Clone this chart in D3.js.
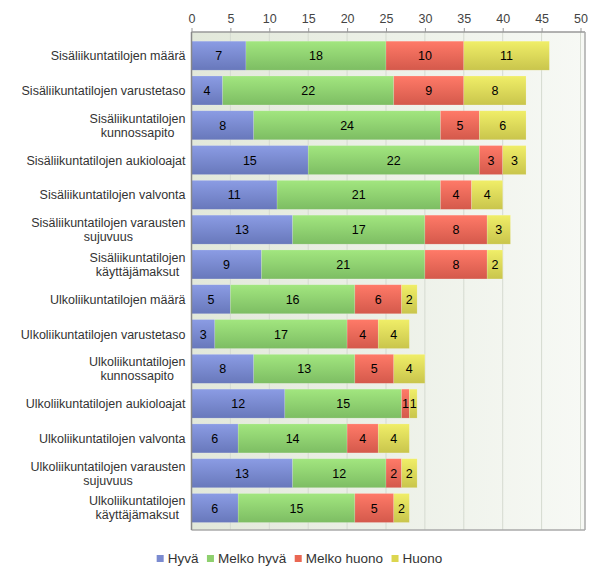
<!DOCTYPE html>
<html>
<head>
<meta charset="utf-8">
<script src="https://cdn.jsdelivr.net/npm/d3@7"></script>
<style>
  html, body { margin: 0; padding: 0; background: #fff; }
  svg { display: block; font-family: "Liberation Sans", Arial, sans-serif; }
</style>
</head>
<body>
<svg id="chart" width="600" height="570"></svg>
<script>
const categories = [
  ["Sisäliikuntatilojen määrä"],
  ["Sisäliikuntatilojen varustetaso"],
  ["Sisäliikuntatilojen", "kunnossapito"],
  ["Sisäliikuntatilojen aukioloajat"],
  ["Sisäliikuntatilojen valvonta"],
  ["Sisäliikuntatilojen varausten", "sujuvuus"],
  ["Sisäliikuntatilojen", "käyttäjämaksut"],
  ["Ulkoliikuntatilojen määrä"],
  ["Ulkoliikuntatilojen varustetaso"],
  ["Ulkoliikuntatilojen", "kunnossapito"],
  ["Ulkoliikuntatilojen aukioloajat"],
  ["Ulkoliikuntatilojen valvonta"],
  ["Ulkoliikuntatilojen varausten", "sujuvuus"],
  ["Ulkoliikuntatilojen", "käyttäjämaksut"]
];
const seriesNames = ["Hyvä", "Melko hyvä", "Melko huono", "Huono"];
const hyva       = [7, 4, 8, 15, 11, 13, 9, 5, 3, 8, 12, 6, 13, 6];
const melkoHyva  = [18, 22, 24, 22, 21, 17, 21, 16, 17, 13, 15, 14, 12, 15];
const melkoHuono = [10, 9, 5, 3, 4, 8, 8, 6, 4, 5, 1, 4, 2, 5];
const huono      = [11, 8, 6, 3, 4, 3, 2, 2, 4, 4, 1, 4, 2, 2];
const xTicks = [0, 5, 10, 15, 20, 25, 30, 35, 40, 45, 50];

const seriesValues = [hyva, melkoHyva, melkoHuono, huono];
const gradTop = ["#8b9ce4", "#a2e67f", "#ff7a68", "#f0ee68"];
const gradBot = ["#6878bb", "#7dbd63", "#d4594b", "#c9c54c"];
const legendCol = ["#7b8bd0", "#8ed06e", "#ea6753", "#dcd650"];

const svg = d3.select("#chart");
const defs = svg.append("defs");

const plot = { left: 191.5, right: 585, top: 32, bottom: 530 };

const x = d3.scaleLinear().domain([0, 50]).range([plot.left, 580.5]);
const y = d3.scaleBand().domain(d3.range(categories.length))
  .range([plot.top, plot.bottom]).paddingInner(0.167).paddingOuter(0.24).align(0.55);

// background gradient
const bg = defs.append("linearGradient").attr("id", "bg").attr("x1", 0).attr("x2", 1).attr("y1", 0).attr("y2", 0);
bg.append("stop").attr("offset", "0%").attr("stop-color", "#e2e8da");
bg.append("stop").attr("offset", "100%").attr("stop-color", "#f7f9f5");

seriesNames.forEach((s, i) => {
  const g = defs.append("linearGradient").attr("id", "g" + i).attr("x1", 0).attr("x2", 0).attr("y1", 0).attr("y2", 1);
  g.append("stop").attr("offset", "0%").attr("stop-color", gradTop[i]);
  g.append("stop").attr("offset", "100%").attr("stop-color", gradBot[i]);
});

svg.append("rect").attr("x", plot.left).attr("y", plot.top)
  .attr("width", plot.right - plot.left).attr("height", plot.bottom - plot.top)
  .attr("fill", "url(#bg)");

// gridlines
svg.append("g").selectAll("line").data(xTicks.slice(1)).join("line")
  .attr("x1", d => x(d)).attr("x2", d => x(d))
  .attr("y1", plot.top).attr("y2", plot.bottom)
  .attr("stroke", "#d5dad0").attr("stroke-width", 1);

// stacked bars
const stackData = categories.map((c, i) => {
  const o = { idx: i };
  seriesNames.forEach((s, j) => o[s] = seriesValues[j][i]);
  return o;
});
const stacked = d3.stack().keys(seriesNames)(stackData);

stacked.forEach((layer, j) => {
  const g = svg.append("g");
  g.selectAll("rect").data(layer).join("rect")
    .attr("x", d => x(d[0]))
    .attr("y", d => y(d.data.idx))
    .attr("width", d => x(d[1]) - x(d[0]))
    .attr("height", y.bandwidth())
    .attr("fill", `url(#g${j})`)
    .attr("stroke", "rgba(255,255,255,0.25)").attr("stroke-width", 0.6);
  g.selectAll("text").data(layer).join("text")
    .attr("x", d => (x(d[0]) + x(d[1])) / 2)
    .attr("y", d => y(d.data.idx) + y.bandwidth() / 2 + 4.6)
    .attr("text-anchor", "middle")
    .attr("font-size", 12.5).attr("fill", "#000")
    .text(d => d[1] - d[0]);
});

// borders
svg.append("line").attr("x1", plot.left).attr("x2", plot.right).attr("y1", plot.top).attr("y2", plot.top)
  .attr("stroke", "#999").attr("stroke-width", 1.5);
svg.append("line").attr("x1", plot.right).attr("x2", plot.right).attr("y1", plot.top).attr("y2", plot.bottom)
  .attr("stroke", "#aaa").attr("stroke-width", 1.5);
svg.append("line").attr("x1", plot.left).attr("x2", plot.right).attr("y1", plot.bottom).attr("y2", plot.bottom)
  .attr("stroke", "#aaa").attr("stroke-width", 1.5);
svg.append("line").attr("x1", plot.left).attr("x2", plot.left).attr("y1", plot.top).attr("y2", plot.bottom)
  .attr("stroke", "#888").attr("stroke-width", 1.5);

// top axis labels
const axisG = svg.append("g").attr("transform", `translate(0,${plot.top})`)
  .call(d3.axisTop(x).tickValues(xTicks).tickSize(4).tickPadding(5));
axisG.select(".domain").remove();
axisG.selectAll(".tick line").attr("stroke", "#999");
axisG.selectAll("text").attr("font-size", 12.5).attr("fill", "#444")
  .attr("font-family", "'Liberation Sans', Arial, sans-serif");

// category labels
const catG = svg.append("g");
categories.forEach((lines, i) => {
  const cy = y(i) + y.bandwidth() / 2;
  const t = catG.append("text").attr("font-size", 12.5).attr("fill", "#333");
  const lh = 14;
  const startY = cy - (lines.length - 1) * lh / 2 + 4.5;
  lines.forEach((ln, k) => {
    t.append("tspan").attr("y", startY + k * lh).text(ln);
  });
  const tsp = t.selectAll("tspan").nodes();
  const widths = tsp.map(n => n.getComputedTextLength());
  const maxW = d3.max(widths);
  const right = 185.5;
  tsp.forEach(n => d3.select(n).attr("x", right - maxW / 2).attr("text-anchor", "middle"));
});

// legend
const legend = svg.append("g");
let lx = 0;
const items = [];
seriesNames.forEach((s, i) => {
  const g = legend.append("g");
  g.append("rect").attr("x", 0).attr("y", -8).attr("width", 7).attr("height", 7).attr("fill", legendCol[i]);
  const t = g.append("text").attr("x", 11).attr("y", 0).attr("font-size", 13.5).attr("fill", "#333").text(s);
  items.push({ g, w: 11 + t.node().getComputedTextLength() });
});
const gap = 8.5;
const totalW = d3.sum(items, d => d.w) + gap * (items.length - 1);
lx = 299.5 - totalW / 2;
items.forEach(it => { it.g.attr("transform", `translate(${lx},563)`); lx += it.w + gap; });
</script>
</body>
</html>
